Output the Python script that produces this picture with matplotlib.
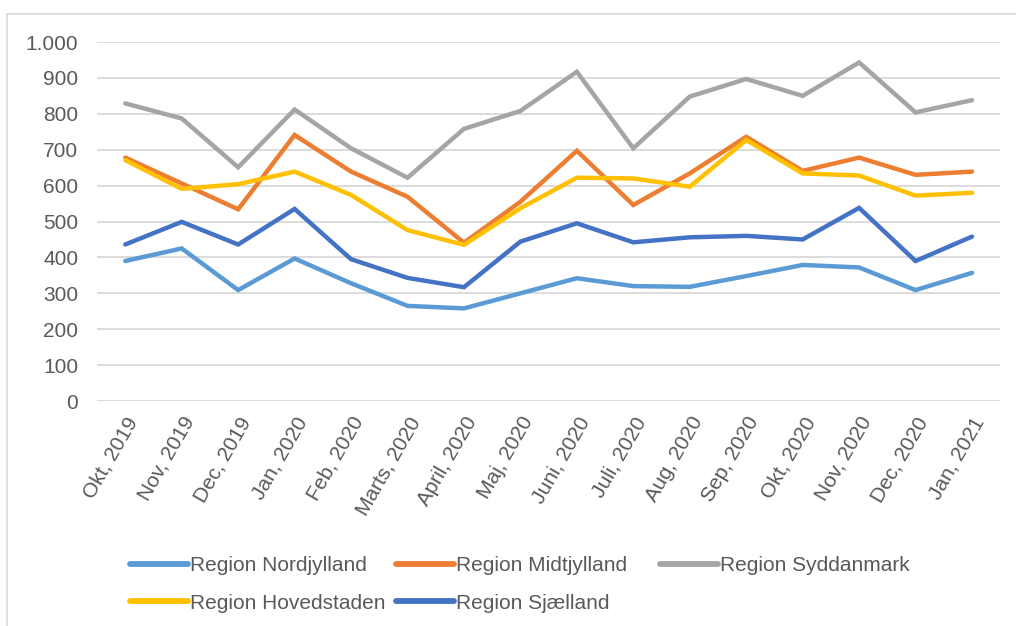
import matplotlib.pyplot as plt
from matplotlib.lines import Line2D
from matplotlib.ticker import FuncFormatter

plt.rcParams["font.family"] = ["Liberation Sans", "DejaVu Sans"]

months = ["Okt, 2019", "Nov, 2019", "Dec, 2019", "Jan, 2020", "Feb, 2020",
          "Marts, 2020", "April, 2020", "Maj, 2020", "Juni, 2020", "Juli, 2020",
          "Aug, 2020", "Sep, 2020", "Okt, 2020", "Nov, 2020", "Dec, 2020",
          "Jan, 2021"]

nordjylland = [390, 425, 309, 397, 328, 265, 258, 300, 342, 320, 318, 348, 379, 372, 309, 357]
midtjylland = [678, 606, 534, 741, 639, 569, 441, 555, 697, 546, 634, 736, 641, 678, 630, 639]
syddanmark = [829, 787, 651, 812, 704, 622, 758, 808, 917, 704, 848, 897, 850, 943, 804, 838]
hovedstaden = [671, 591, 604, 639, 574, 476, 435, 537, 622, 620, 597, 727, 634, 628, 572, 580]
sjaelland = [436, 499, 436, 535, 395, 343, 317, 444, 495, 442, 456, 460, 450, 538, 390, 458]

series = [
    ("Region Nordjylland", nordjylland, "#5B9BD5"),
    ("Region Midtjylland", midtjylland, "#ED7D31"),
    ("Region Syddanmark", syddanmark, "#A5A5A5"),
    ("Region Hovedstaden", hovedstaden, "#FFC000"),
    ("Region Sjælland", sjaelland, "#4472C4"),
]

fig = plt.figure(figsize=(10.16, 6.26), dpi=100)
ax = fig.add_axes([0.0955, 0.3594, 0.889, 0.5735])

x = list(range(len(months)))
for name, vals, col in series:
    ax.plot(x, vals, color=col, lw=3.2, label=name, solid_capstyle="round",
            solid_joinstyle="miter")

ax.set_xlim(-0.5, len(months) - 0.5)
ax.set_ylim(0, 1000)
ax.set_yticks(range(0, 1001, 100))
ax.yaxis.set_major_formatter(FuncFormatter(lambda v, p: f"{int(v):,}".replace(",", ".")))
ax.set_xticks(x)
ax.set_xticklabels(months, rotation=60, ha="right", rotation_mode="anchor")
ax.tick_params(axis="both", length=0, labelsize=15, colors="#595959")
ax.tick_params(axis="x", pad=9)
ax.tick_params(axis="y", pad=13.5)
ax.grid(axis="y", color="#D9D9D9", lw=1.3)
ax.set_axisbelow(True)
for s in ax.spines.values():
    s.set_visible(False)

# legend: three equal-width columns, filled row by row like Excel
handles = [Line2D([], [], color=c, lw=4.2, solid_capstyle="round") for _, _, c in series]
labels = [n for n, _, _ in series]
columns = [[0, 3], [1, 4], [2]]
col_x = [130, 396, 660]
for idx, cx in zip(columns, col_x):
    leg = fig.legend([handles[i] for i in idx], [labels[i] for i in idx],
                     loc="upper left", bbox_to_anchor=(cx / 1016, 0.112),
                     frameon=False, fontsize=15, handlelength=2.8,
                     handletextpad=0.1, labelspacing=0.9, borderpad=0,
                     borderaxespad=0)
    for t in leg.get_texts():
        t.set_color("#595959")

# outer chart border
fig.add_artist(Line2D([0.007, 0.007], [0, 0.978], color="#D9D9D9", lw=1.2,
                      transform=fig.transFigure))
fig.add_artist(Line2D([0.007, 1.0], [0.978, 0.978], color="#D9D9D9", lw=1.2,
                      transform=fig.transFigure))

fig.savefig("out.png", dpi=100)
